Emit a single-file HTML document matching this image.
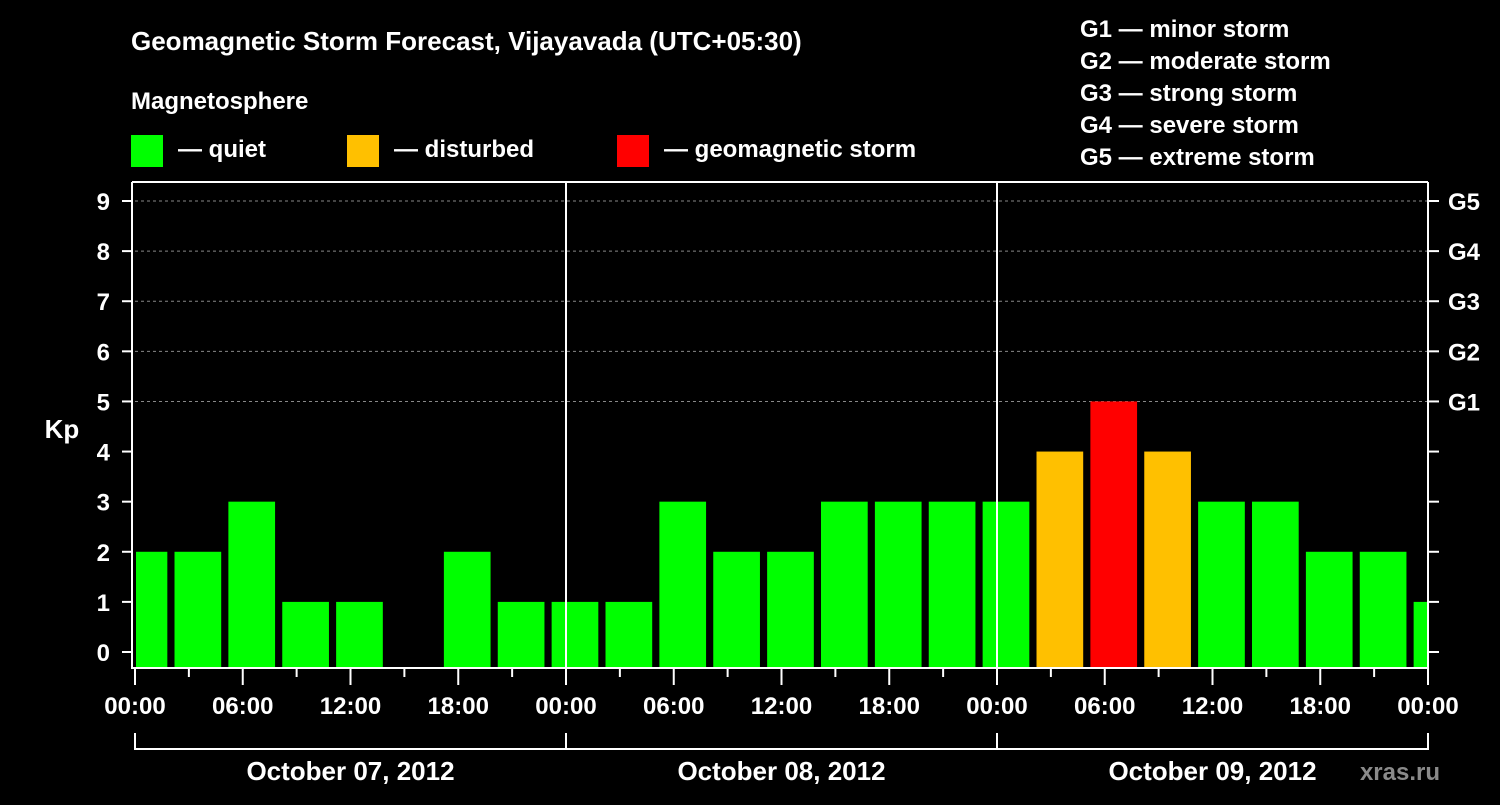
<!DOCTYPE html>
<html><head><meta charset="utf-8"><style>
body{margin:0;background:#000;width:1500px;height:800px;overflow:hidden}
svg text{font-family:"Liberation Sans",Arial,sans-serif;font-weight:bold;fill:#fff}
</style></head><body>
<svg id="c" width="1500" height="800" xmlns="http://www.w3.org/2000/svg">
<text x="131" y="50" font-size="26">Geomagnetic Storm Forecast, Vijayavada (UTC+05:30)</text>
<text x="131" y="109" font-size="24">Magnetosphere</text>
<g><rect x="131" y="135" width="32" height="32" fill="#00ff00"/><text x="178" y="157" font-size="24">— quiet</text></g>
<g><rect x="347" y="135" width="32" height="32" fill="#ffc000"/><text x="394" y="157" font-size="24">— disturbed</text></g>
<g><rect x="617" y="135" width="32" height="32" fill="#ff0000"/><text x="664" y="157" font-size="24">— geomagnetic storm</text></g>
<g font-size="24">
<text x="1080" y="37">G1 — minor storm</text>
<text x="1080" y="69">G2 — moderate storm</text>
<text x="1080" y="101">G3 — strong storm</text>
<text x="1080" y="133">G4 — severe storm</text>
<text x="1080" y="165">G5 — extreme storm</text>
</g>
<text x="62" y="438" font-size="26" text-anchor="middle">Kp</text>
<text x="1440" y="780" font-size="24" text-anchor="end" fill="#888" style="fill:#8a8a8a">xras.ru</text>
<g id="g"></g>
</svg>
<script>
const kpValues=[2,2,3,1,1,0,2,1,1,1,3,2,2,3,3,3,3,4,5,4,3,3,2,2,1];
const yTicks=[0,1,2,3,4,5,6,7,8,9];
const gLabels=["G1","G2","G3","G4","G5"];
const gLevels=[5,6,7,8,9];
const xLabels=["00:00","06:00","12:00","18:00","00:00","06:00","12:00","18:00","00:00","06:00","12:00","18:00","00:00"];
const dayLabels=["October 07, 2012","October 08, 2012","October 09, 2012"];
const L=135,R=1428,T=182,B=668;
const x=h=>L+(R-L)*h/72;
const y=v=>652-(652-201)*v/9;
const NS="http://www.w3.org/2000/svg";
const g=document.getElementById('g');
function mk(t,a,txt){const e=document.createElementNS(NS,t);for(const k in a)e.setAttribute(k,a[k]);if(txt!=null)e.textContent=txt;g.appendChild(e);return e;}
gLevels.forEach((v,i)=>{
 const l=mk('line',{x1:L,x2:R,y1:y(v),y2:y(v),stroke:'#888','stroke-dasharray':'3,3','stroke-width':1});
 
 
 const t=mk('text',{x:1448,y:y(v)+9,'font-size':24},gLabels[i]);
 
 
});
kpValues.forEach((v,k)=>{
 if(v<=0)return;
 const c=3*k+0.5;
 let x1=Math.max(x(c-1.3),L+1),x2=Math.min(x(c+1.3),R);
 const col=v>=5?'#ff0000':(v>=4?'#ffc000':'#00ff00');
 const r=mk('rect',{x:x1,y:y(v),width:x2-x1,height:B-y(v),fill:col});
 
 
});
[24,48].forEach(h=>{const l=mk('line',{x1:x(h),x2:x(h),y1:T,y2:B,stroke:'#fff','stroke-width':2});
 
 });
const fr=mk('path',{d:`M${L-3},${T}V${B}H${R}V${T}`,fill:'none',stroke:'#fff','stroke-width':2});


mk('line',{x1:L-3,x2:R,y1:T,y2:T,stroke:'#fff','stroke-width':2});
yTicks.forEach(v=>{
 mk('line',{x1:L-13,x2:L-3,y1:y(v),y2:y(v),stroke:'#fff','stroke-width':2});
 mk('line',{x1:R,x2:R+11,y1:y(v),y2:y(v),stroke:'#fff','stroke-width':2});
 const t=mk('text',{x:L-25,y:y(v)+9,'font-size':24,'text-anchor':'end'},String(v));
 
 
});
for(let h=0;h<=72;h+=3){mk('line',{x1:x(h),x2:x(h),y1:B,y2:B+(h%6?9:17),stroke:'#fff','stroke-width':2});}
xLabels.forEach((s,i)=>{
 const t=mk('text',{x:x(i*6),y:714,'font-size':24,'text-anchor':'middle'},s);
 
 
});
const br=mk('path',{d:`M${x(0)},733V749H${x(72)}V733M${x(24)},733V749M${x(48)},733V749`,fill:'none',stroke:'#fff','stroke-width':2});


dayLabels.forEach((s,i)=>{
 const t=mk('text',{x:x(i*24+12),y:780,'font-size':26,'text-anchor':'middle'},s);
 
 
});
</script>
</body></html>
